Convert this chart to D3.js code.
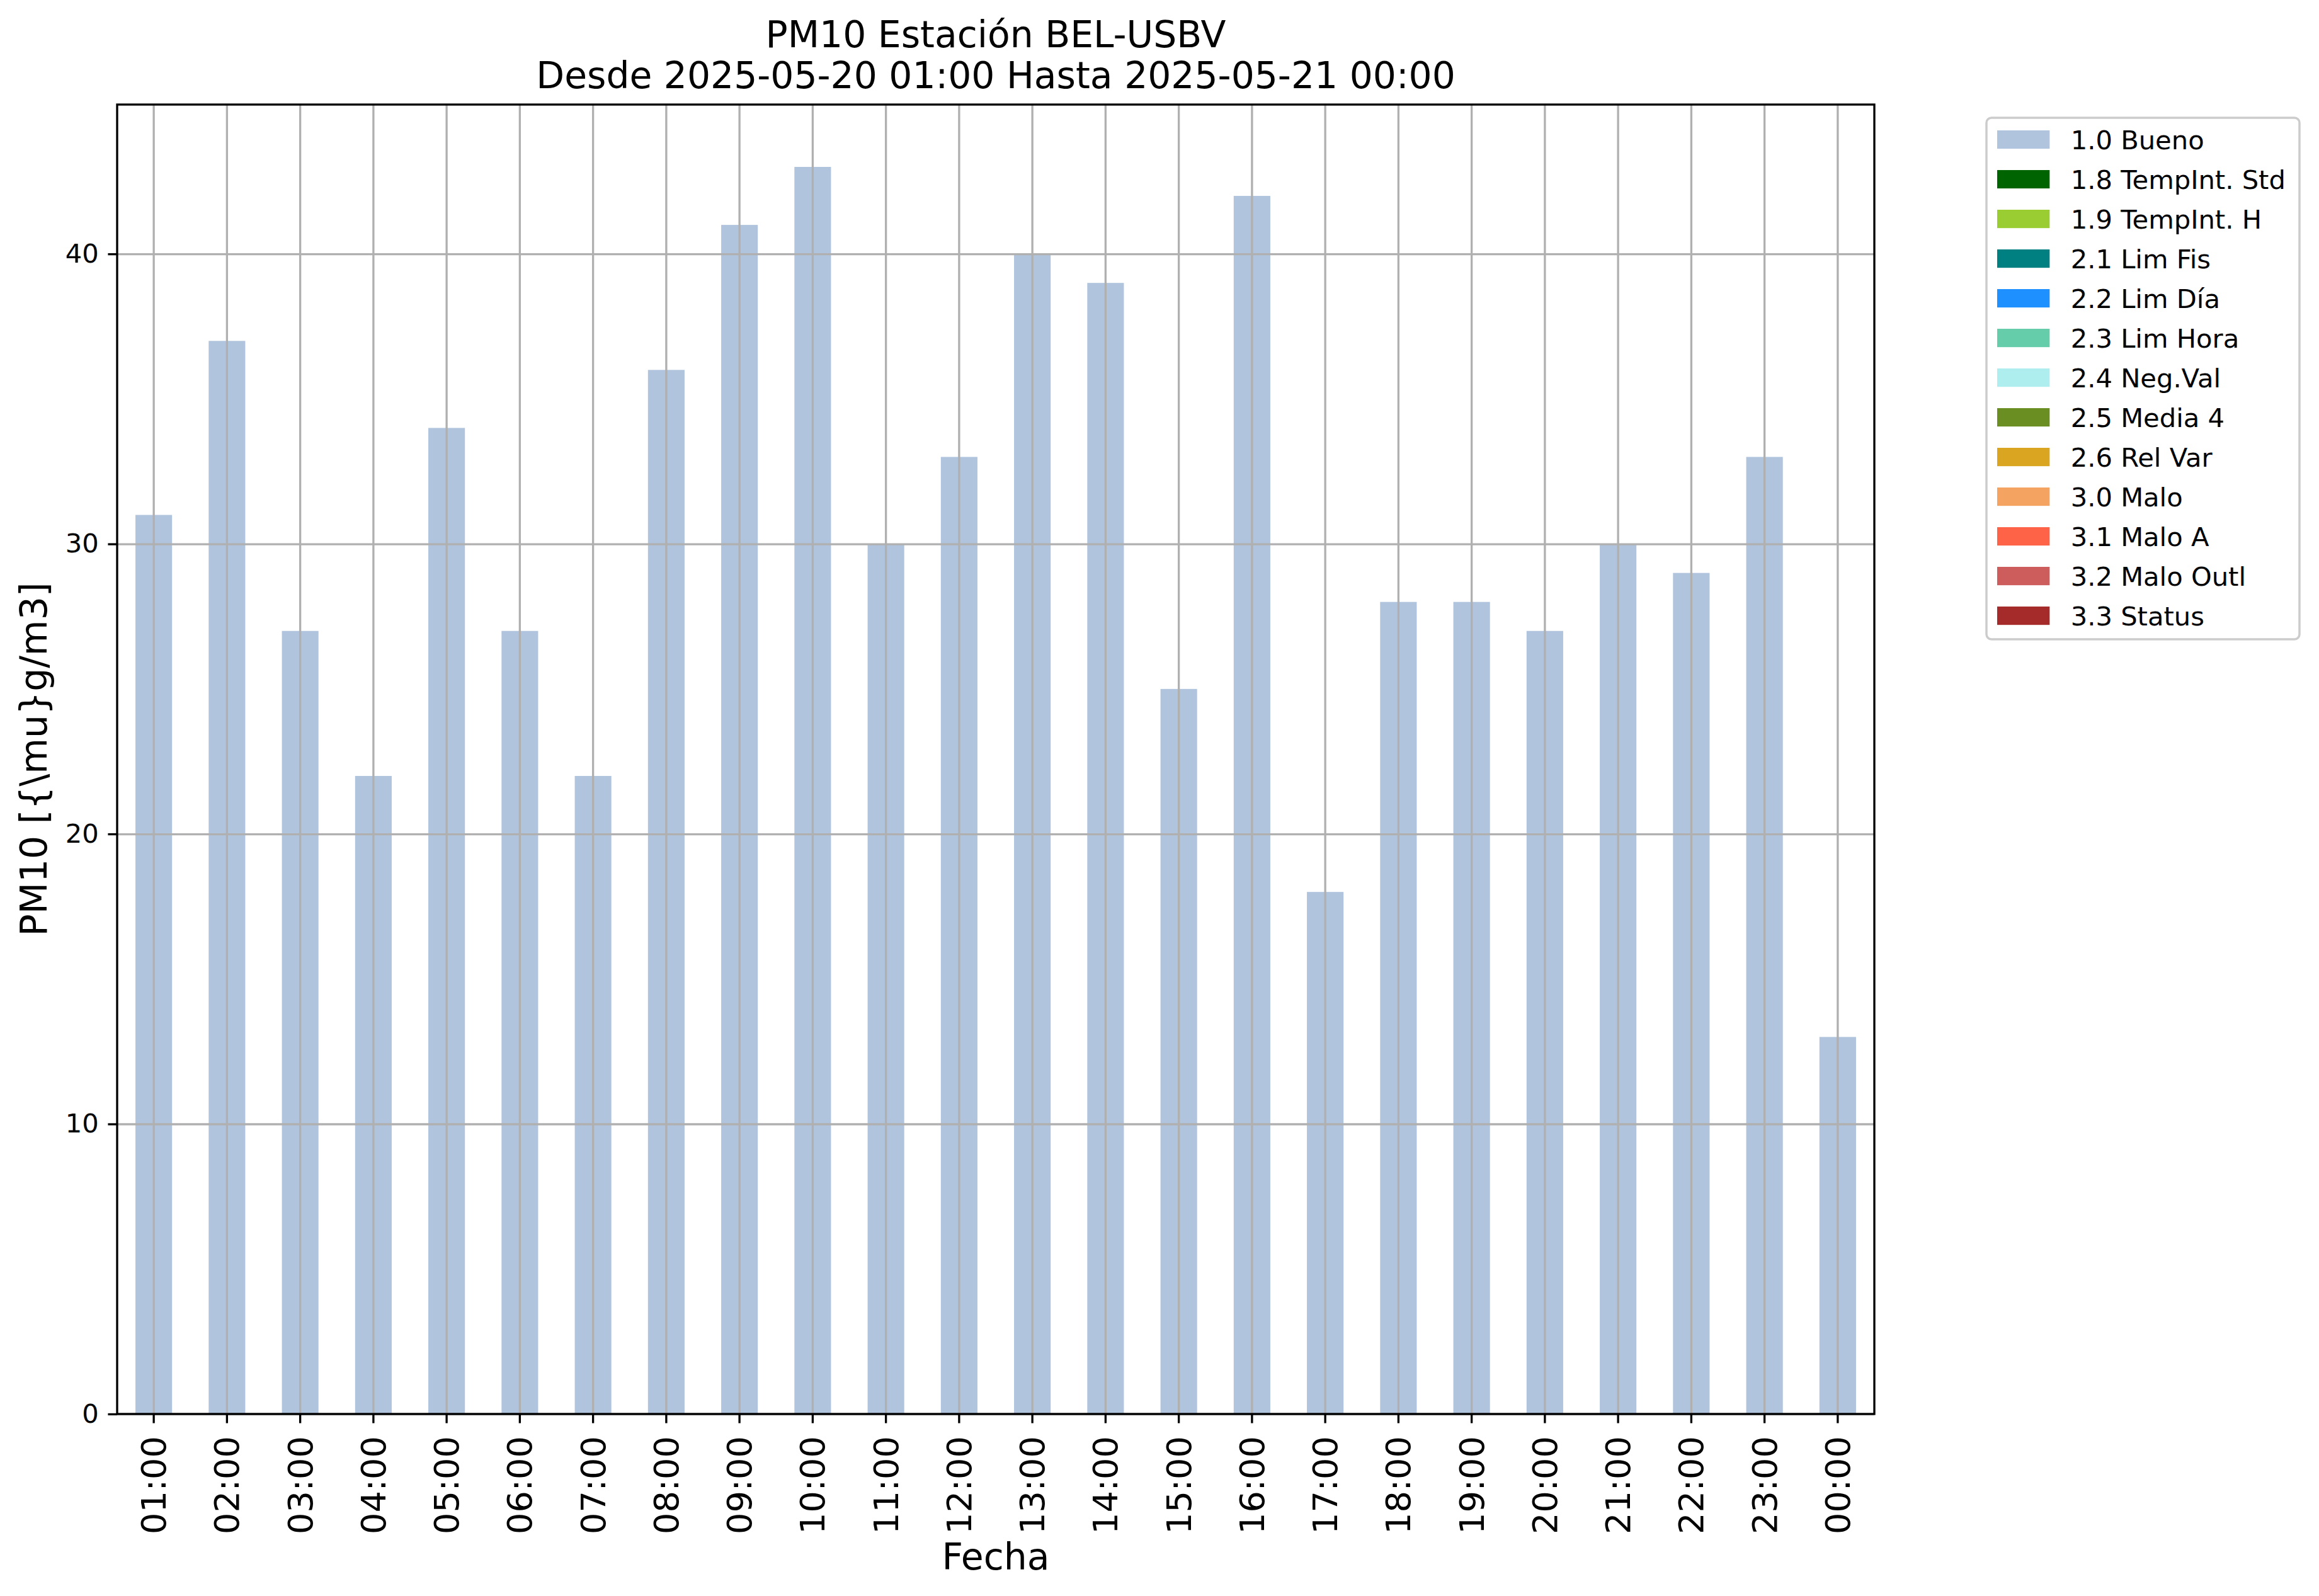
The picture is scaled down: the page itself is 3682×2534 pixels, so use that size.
<!DOCTYPE html>
<html>
<head>
<meta charset="utf-8">
<script src="https://cdn.jsdelivr.net/npm/d3@7"></script>
<style>
  body { margin: 0; background: #fff; }
  text { font-family: "DejaVu Sans", sans-serif; fill: #000; }
</style>
</head>
<body>
<script>
// hourly PM10 values, one bar per hour
var hours = ["01:00","02:00","03:00","04:00","05:00","06:00","07:00","08:00",
             "09:00","10:00","11:00","12:00","13:00","14:00","15:00","16:00",
             "17:00","18:00","19:00","20:00","21:00","22:00","23:00","00:00"];
var pm10 = [31, 37, 27, 22, 34, 27, 22, 36, 41, 43, 30, 33,
            40, 39, 25, 42, 18, 28, 28, 27, 30, 29, 33, 13];
var yTicks = [0, 10, 20, 30, 40];

// quality flag categories shown in legend
var flagLabels = ["1.0 Bueno", "1.8 TempInt. Std", "1.9 TempInt. H", "2.1 Lim Fis",
                  "2.2 Lim Día", "2.3 Lim Hora", "2.4 Neg.Val", "2.5 Media 4",
                  "2.6 Rel Var", "3.0 Malo", "3.1 Malo A", "3.2 Malo Outl", "3.3 Status"];
var flagColors = ["lightsteelblue", "darkgreen", "yellowgreen", "teal",
                  "dodgerblue", "mediumaquamarine", "paleturquoise", "olivedrab",
                  "goldenrod", "sandybrown", "tomato", "indianred", "brown"];

var titleLines = ["PM10 Estación BEL-USBV", "Desde 2025-05-20 01:00 Hasta 2025-05-21 00:00"];

// frame
var width = 3682,
    height = 2534;
var pt = 300 / 72; // figure was made at 300 dpi
// plot area edges (note: "top" is reserved on window, so use plot* names)
var plotLeft = 186, plotRight = 2976, plotTop = 166, plotBottom = 2245;

var svg = d3.select("body")
    .append("svg")
    .attr("width", width)
    .attr("height", height);

// scales
var x = d3.scaleBand()
    .domain(hours)
    .range([plotLeft, plotRight])
    .paddingInner(0.5)
    .paddingOuter(0.25);

var y = d3.scaleLinear()
    .domain([0, d3.max(pm10) * 1.05])
    .range([plotBottom, plotTop]);

// bars
svg.append("g")
  .selectAll("rect")
  .data(pm10)
  .enter()
  .append("rect")
    .attr("x", function(d, i){ return x(hours[i]); })
    .attr("y", function(d){ return y(d); })
    .attr("width", x.bandwidth())
    .attr("height", function(d){ return y(0) - y(d); })
    .attr("fill", flagColors[0]);

// grid (drawn above the bars like matplotlib)
var xGrid = svg.append("g")
    .attr("transform", "translate(0," + plotBottom + ")")
    .call(d3.axisBottom(x).tickSize(-(plotBottom - plotTop)).tickFormat(""));
var yGrid = svg.append("g")
    .attr("transform", "translate(" + plotLeft + ",0)")
    .call(d3.axisLeft(y).tickValues(yTicks).tickSize(-(plotRight - plotLeft)).tickFormat(""));
[xGrid, yGrid].forEach(function(g){
  g.select(".domain").remove();
  g.selectAll("line").attr("stroke", "#b0b0b0").attr("stroke-width", 0.8 * pt);
});

// axes
var xAxis = svg.append("g")
    .attr("transform", "translate(0," + plotBottom + ")")
    .call(d3.axisBottom(x).tickSize(3.5 * pt).tickPadding(3.5 * pt));
xAxis.selectAll("text")
    .attr("y", 0)
    .attr("x", -35)
    .attr("dy", "0.35em")
    .attr("transform", "rotate(-90)")
    .style("text-anchor", "end")
    .style("font-size", (13 * pt) + "px");

var yAxis = svg.append("g")
    .attr("transform", "translate(" + plotLeft + ",0)")
    .call(d3.axisLeft(y).tickValues(yTicks).tickSize(3.5 * pt).tickPadding(3.5 * pt));
yAxis.selectAll("text").style("font-size", (10 * pt) + "px");

[xAxis, yAxis].forEach(function(g){
  g.select(".domain").remove();
  g.selectAll("line").attr("stroke", "#000").attr("stroke-width", 0.8 * pt);
});

// box around plot
svg.append("rect")
    .attr("x", plotLeft)
    .attr("y", plotTop)
    .attr("width", plotRight - plotLeft)
    .attr("height", plotBottom - plotTop)
    .attr("fill", "none")
    .attr("stroke", "#000")
    .attr("stroke-width", 0.8 * pt);

// titles
svg.selectAll(".title")
  .data(titleLines)
  .enter()
  .append("text")
    .attr("class", "title")
    .attr("x", (plotLeft + plotRight) / 2)
    .attr("y", function(d, i){ return 75 + i * 65; })
    .attr("text-anchor", "middle")
    .style("font-size", (14 * pt) + "px")
    .text(function(d){ return d; });

svg.append("text")
    .attr("x", (plotLeft + plotRight) / 2)
    .attr("y", 2492)
    .attr("text-anchor", "middle")
    .style("font-size", (14 * pt) + "px")
    .text("Fecha");

svg.append("text")
    .attr("transform", "translate(74," + ((plotTop + plotBottom) / 2) + ") rotate(-90)")
    .attr("text-anchor", "middle")
    .style("font-size", (14 * pt) + "px")
    .text("PM10 [{\\mu}g/m3]");

// legend
var legend = svg.append("g");
legend.append("rect")
    .attr("x", 3154)
    .attr("y", 187)
    .attr("width", 3651 - 3154)
    .attr("height", 1015 - 187)
    .attr("rx", 8)
    .attr("fill", "#fff")
    .attr("stroke", "#cccccc")
    .attr("stroke-width", 3.5);

var items = legend.selectAll(".item")
  .data(flagLabels)
  .enter()
  .append("g")
    .attr("class", "item")
    .attr("transform", function(d, i){ return "translate(3171," + (207 + i * 63) + ")"; });

items.append("rect")
    .attr("width", 2 * 10 * pt)
    .attr("height", 0.7 * 10 * pt)
    .attr("fill", function(d, i){ return flagColors[i]; });

items.append("text")
    .attr("x", 2 * 10 * pt + 0.8 * 10 * pt)
    .attr("y", 29.5)
    .style("font-size", (10 * pt) + "px")
    .text(function(d){ return d; });
</script>
</body>
</html>
